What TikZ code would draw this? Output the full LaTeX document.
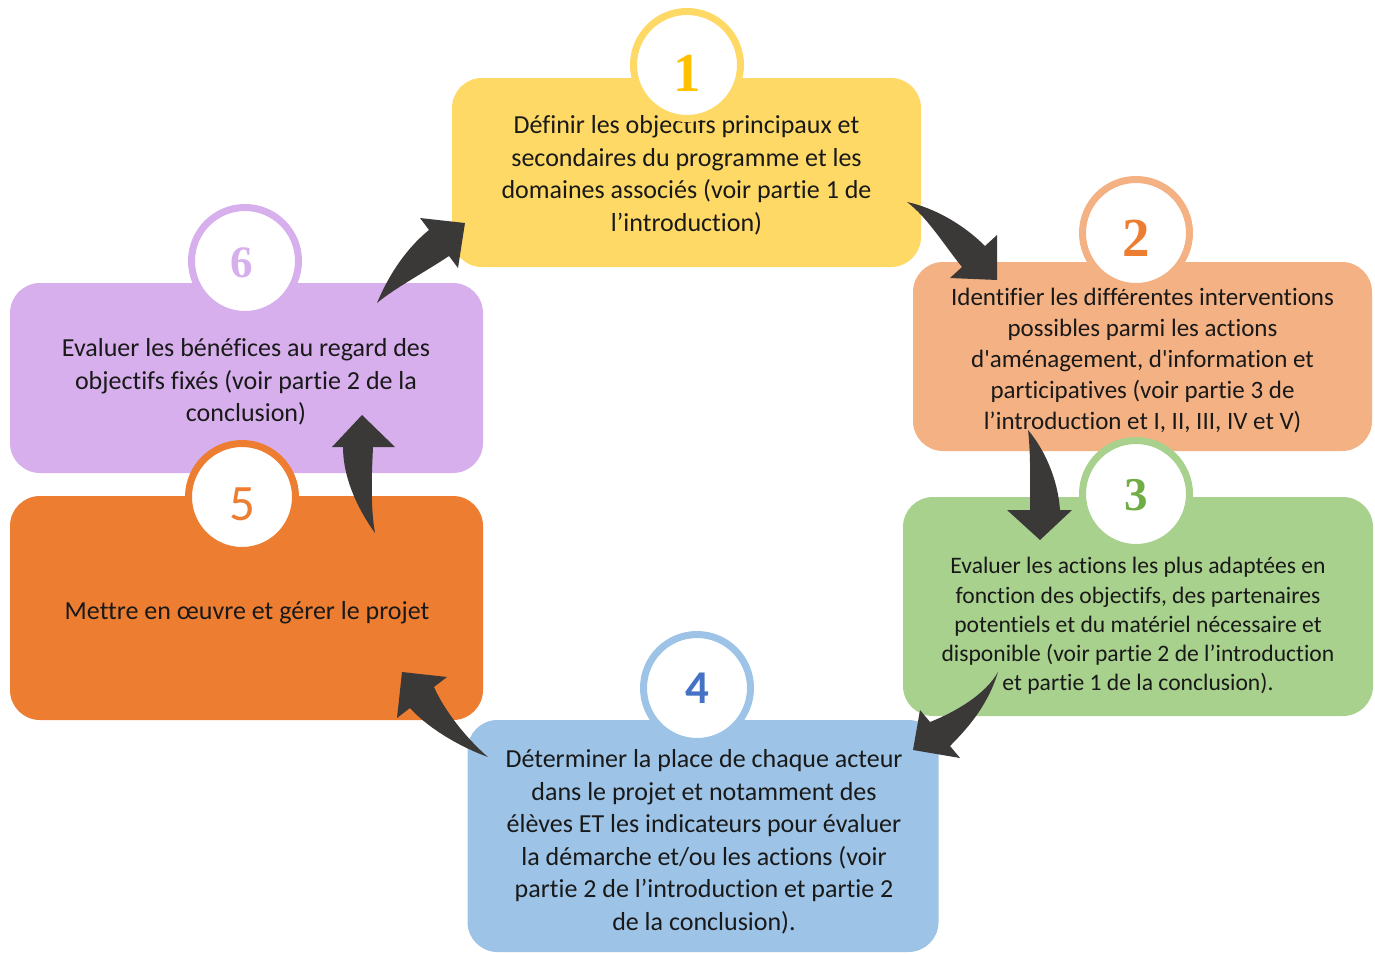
\documentclass[tikz,border=0pt]{standalone}
\usepackage{fontspec}
\setmainfont{Carlito}[Ligatures={NoCommon}]
\newfontfamily\serifnum{Liberation Serif}
\usepackage{tikz}
\usepackage{xcolor}
\usetikzlibrary{positioning}

\definecolor{yellowbox}{HTML}{FFD966}
\definecolor{salmonbox}{HTML}{F4B183}
\definecolor{greenbox}{HTML}{A9D18E}
\definecolor{bluebox}{HTML}{9DC3E6}
\definecolor{orangebox}{HTML}{ED7D31}
\definecolor{purplebox}{HTML}{D6AFEC}
\definecolor{goldnum}{HTML}{FFC000}
\definecolor{greennum}{HTML}{70AD47}
\definecolor{bluenum}{HTML}{4472C4}
\definecolor{darkarrow}{HTML}{3B3838}

\tikzset{
    box/.style={rectangle, rounded corners=30pt, inner sep=0pt},
    boxtext/.style={align=center, inner sep=0pt, text=black!90, font=\fontsize{26}{32.5}\selectfont},
    numring/.style={circle, fill=white, line width=7pt, minimum size=107pt, inner sep=0pt},
    serifdigit/.style={inner sep=0pt, font=\serifnum\bfseries\fontsize{55}{55}\selectfont},
    sansdigit/.style={inner sep=0pt, font=\fontsize{51}{51}\selectfont},
    darrow/.style={fill=darkarrow},
}

\begin{document}
\begin{tikzpicture}[x=1pt, y=-1pt]
            \useasboundingbox (0,0) rectangle (1375,953);

            % boxes
            \node[box, fill=yellowbox, minimum width=469pt, minimum height=189pt] (b1) at (686.5,172.5) {};
            \node[box, fill=salmonbox, minimum width=459pt, minimum height=189pt] (b2) at (1142.5,356.5) {};
            \node[box, fill=greenbox, minimum width=470pt, minimum height=219pt] (b3) at (1138,606.5) {};
            \node[box, fill=bluebox, minimum width=471pt, minimum height=232pt] (b4) at (703,836) {};
            \node[box, fill=orangebox, minimum width=473pt, minimum height=224pt] (b5) at (246.5,608) {};
            \node[box, fill=purplebox, minimum width=473pt, minimum height=190pt] (b6) at (246.5,378) {};

            % texts
            \node[boxtext] (t1) at (686.5,175.5) {D\'efinir les objectifs principaux et\\secondaires du programme et les\\domaines associ\'es (voir partie 1 de\\l’introduction)};
            \node[boxtext, font=\fontsize{25}{31}\selectfont] (t2) at (1142.5,361) {Identifier les diff\'erentes interventions\\possibles parmi les actions\\d\textquotesingle am\'enagement, d\textquotesingle information et\\participatives (voir partie 3 de\\l’introduction et I, II, III, IV et V)};
            \node[boxtext, font=\fontsize{23.6}{29.3}\selectfont] (t3) at (1138,626) {Evaluer les actions les plus adapt\'ees en\\fonction des objectifs, des partenaires\\potentiels et du mat\'eriel n\'ecessaire et\\disponible (voir partie 2 de l’introduction\\et partie 1 de la conclusion).};
            \node[boxtext] (t4) at (704,842) {D\'eterminer la place de chaque acteur\\dans le projet et notamment des\\\'el\`eves ET les indicateurs pour \'evaluer\\la d\'emarche et/ou les actions (voir\\partie 2 de l’introduction et partie 2\\de la conclusion).};
            \node[boxtext] (t5) at (247,613) {Mettre en œuvre et g\'erer le projet};
            \node[boxtext] (t6) at (246,382) {Evaluer les b\'en\'efices au regard des\\objectifs fix\'es (voir partie 2 de la\\conclusion)};

            % number rings
            \node[numring, draw=yellowbox] (c1) at (687,65) {};
            \node[numring, draw=salmonbox] (c2) at (1136,233) {};
            \node[numring, draw=greenbox] (c3) at (1136,494) {};
            \node[numring, draw=bluebox] (c4) at (697,688) {};
            \node[numring, draw=orangebox] (c5) at (242,497) {};
            \node[numring, draw=purplebox] (c6) at (245,261) {};

            \node[serifdigit, text=goldnum] (n1) at (687,73) {1};
            \node[serifdigit, text=orangebox] (n2) at (1136,238) {2};
            \node[serifdigit, text=greennum, font=\serifnum\bfseries\fontsize{47}{47}\selectfont] (n3) at (1136,495) {3};
            \node[sansdigit, text=bluenum, font=\bfseries\fontsize{47}{47}\selectfont] (n4) at (697,688) {4};
            \node[sansdigit, text=orangebox] (n5) at (242,504) {5};
            \node[serifdigit, text=purplebox, font=\serifnum\bfseries\fontsize{45}{45}\selectfont] (n6) at (242,263) {6};

            % arrows
            \coordinate (a1s) at (377,303);
            \coordinate (a1e) at (465,223);
            \coordinate (a2s) at (907,202);
            \coordinate (a2e) at (997,280);
            \coordinate (a3s) at (1028,430);
            \coordinate (a3e) at (1040,540);
            \coordinate (a4s) at (998,672);
            \coordinate (a4e) at (913,750);
            \coordinate (a5s) at (488,757);
            \coordinate (a5e) at (402,672);
            \coordinate (a6s) at (375,533);
            \coordinate (a6e) at (362,415);

            \fill[darrow] (a1s) .. controls (390,272) and (408,247) .. (429,230) -- (420,218) -- (a1e) -- (458,268) -- (449,256) .. controls (425,272) and (395,288) .. (a1s);
            \fill[darrow] (a2s) .. controls (935,208) and (964,225) .. (985,246) -- (997,235) -- (a2e) -- (950,278) -- (962,267) .. controls (944,245) and (928,218) .. (a2s);
            \fill[darrow] (a3s) .. controls (1031,455) and (1030,490) .. (1030,510) -- (1007,510) -- (a3e) -- (1072,510) -- (1060,510) .. controls (1058,480) and (1045,450) .. (a3s);
            \fill[darrow] (a4s) .. controls (985,695) and (955,712) .. (930,722) -- (920,710) -- (a4e) -- (960,758) -- (950,746) .. controls (968,728) and (988,705) .. (a4s);
            \fill[darrow] (a5s) .. controls (468,740) and (445,712) .. (434,687) -- (447,677) -- (a5e) -- (397,718) -- (410,708) .. controls (425,725) and (455,745) .. (a5s);
            \fill[darrow] (a6s) .. controls (370,505) and (372,470) .. (373,447) -- (395,447) -- (a6e) -- (332,447) -- (343,447) .. controls (343,475) and (355,505) .. (a6s);
        \end{tikzpicture}
\end{document}
